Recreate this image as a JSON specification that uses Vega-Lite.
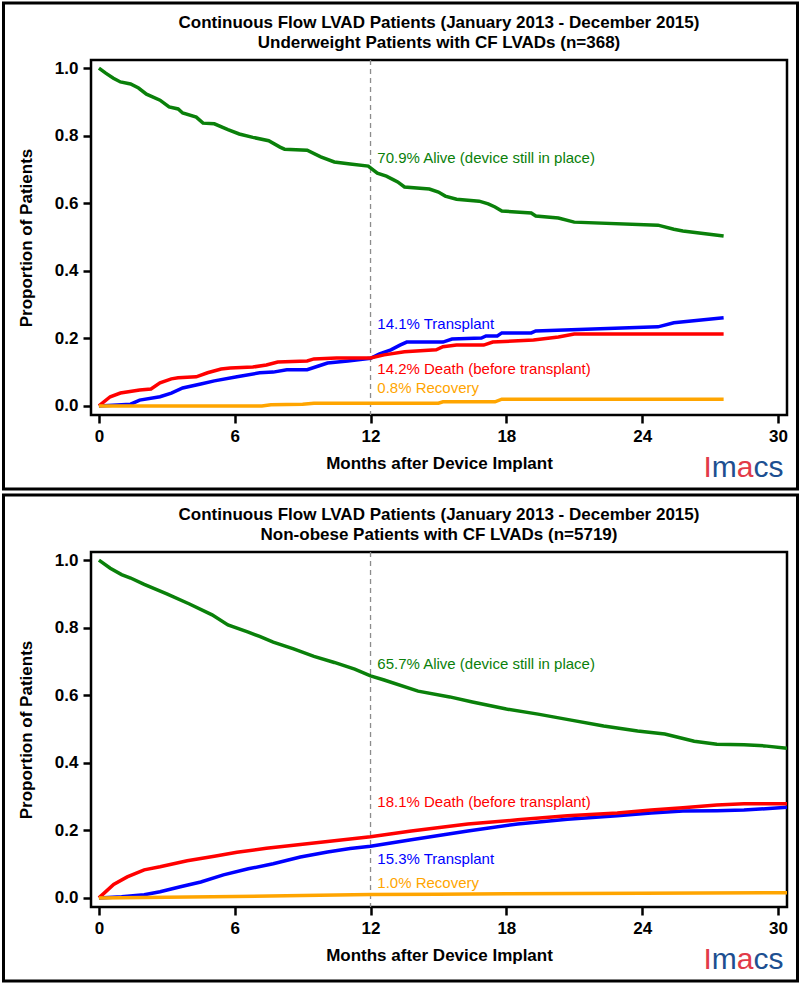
{
  "$schema": "https://vega.github.io/schema/vega-lite/v6.json",
  "padding": 0,
  "background": "white",
  "spacing": 0,
  "config": {
    "font": "Liberation Sans",
    "view": {"stroke": "black", "strokeWidth": 2.5},
    "axis": {"domain": false, "grid": false, "tickColor": "black", "tickWidth": 2.5, "tickSize": 8, "labelFont": "Liberation Sans", "labelFontSize": 17, "labelFontWeight": "bold", "labelColor": "black", "labelPadding": 5, "labelFlush": false, "titleFont": "Liberation Sans", "titleFontSize": 17, "titleFontWeight": "bold", "titleColor": "black"},
    "axisX": {"titlePadding": 11},
    "axisY": {"titlePadding": 19},
    "title": {"font": "Liberation Sans", "fontSize": 17, "fontWeight": "bold", "color": "black", "frame": "group", "anchor": "middle", "lineHeight": 20, "offset": -50}
  },
  "datasets": {
    "underweight": [
      {"status": "Alive", "month": 0, "p": 1.0}, {"status": "Alive", "month": 0.3, "p": 0.985}, {"status": "Alive", "month": 0.64, "p": 0.970}, {"status": "Alive", "month": 0.95, "p": 0.959}, {"status": "Alive", "month": 1.4, "p": 0.953}, {"status": "Alive", "month": 1.75, "p": 0.941}, {"status": "Alive", "month": 2.1, "p": 0.923}, {"status": "Alive", "month": 2.7, "p": 0.905}, {"status": "Alive", "month": 3.1, "p": 0.885}, {"status": "Alive", "month": 3.5, "p": 0.879}, {"status": "Alive", "month": 3.7, "p": 0.867}, {"status": "Alive", "month": 4.3, "p": 0.855}, {"status": "Alive", "month": 4.6, "p": 0.837}, {"status": "Alive", "month": 5.1, "p": 0.835}, {"status": "Alive", "month": 5.7, "p": 0.818}, {"status": "Alive", "month": 6.2, "p": 0.805}, {"status": "Alive", "month": 6.8, "p": 0.795}, {"status": "Alive", "month": 7.5, "p": 0.785}, {"status": "Alive", "month": 8.0, "p": 0.766}, {"status": "Alive", "month": 8.2, "p": 0.760}, {"status": "Alive", "month": 9.2, "p": 0.757}, {"status": "Alive", "month": 9.8, "p": 0.737}, {"status": "Alive", "month": 10.4, "p": 0.722}, {"status": "Alive", "month": 11.1, "p": 0.716}, {"status": "Alive", "month": 11.9, "p": 0.710}, {"status": "Alive", "month": 12.3, "p": 0.689}, {"status": "Alive", "month": 12.7, "p": 0.680}, {"status": "Alive", "month": 13.0, "p": 0.670}, {"status": "Alive", "month": 13.2, "p": 0.663}, {"status": "Alive", "month": 13.5, "p": 0.648}, {"status": "Alive", "month": 14.6, "p": 0.642}, {"status": "Alive", "month": 15.0, "p": 0.633}, {"status": "Alive", "month": 15.3, "p": 0.621}, {"status": "Alive", "month": 15.8, "p": 0.612}, {"status": "Alive", "month": 16.8, "p": 0.606}, {"status": "Alive", "month": 17.2, "p": 0.598}, {"status": "Alive", "month": 17.5, "p": 0.589}, {"status": "Alive", "month": 17.8, "p": 0.577}, {"status": "Alive", "month": 19.1, "p": 0.571}, {"status": "Alive", "month": 19.3, "p": 0.562}, {"status": "Alive", "month": 20.3, "p": 0.556}, {"status": "Alive", "month": 21.0, "p": 0.544}, {"status": "Alive", "month": 24.7, "p": 0.535}, {"status": "Alive", "month": 25.4, "p": 0.523}, {"status": "Alive", "month": 25.8, "p": 0.518}, {"status": "Alive", "month": 27.6, "p": 0.503},
      {"status": "Transplant", "month": 0, "p": 0}, {"status": "Transplant", "month": 1.4, "p": 0.005}, {"status": "Transplant", "month": 1.8, "p": 0.017}, {"status": "Transplant", "month": 2.7, "p": 0.027}, {"status": "Transplant", "month": 3.2, "p": 0.038}, {"status": "Transplant", "month": 3.7, "p": 0.053}, {"status": "Transplant", "month": 4.5, "p": 0.065}, {"status": "Transplant", "month": 5.1, "p": 0.074}, {"status": "Transplant", "month": 6.1, "p": 0.086}, {"status": "Transplant", "month": 7.1, "p": 0.098}, {"status": "Transplant", "month": 7.7, "p": 0.100}, {"status": "Transplant", "month": 8.3, "p": 0.107}, {"status": "Transplant", "month": 9.2, "p": 0.107}, {"status": "Transplant", "month": 9.7, "p": 0.118}, {"status": "Transplant", "month": 10.1, "p": 0.127}, {"status": "Transplant", "month": 11.0, "p": 0.133}, {"status": "Transplant", "month": 12.0, "p": 0.141}, {"status": "Transplant", "month": 12.4, "p": 0.154}, {"status": "Transplant", "month": 12.9, "p": 0.166}, {"status": "Transplant", "month": 13.3, "p": 0.180}, {"status": "Transplant", "month": 13.6, "p": 0.189}, {"status": "Transplant", "month": 15.2, "p": 0.189}, {"status": "Transplant", "month": 15.6, "p": 0.198}, {"status": "Transplant", "month": 16.9, "p": 0.201}, {"status": "Transplant", "month": 17.1, "p": 0.207}, {"status": "Transplant", "month": 17.6, "p": 0.207}, {"status": "Transplant", "month": 17.8, "p": 0.216}, {"status": "Transplant", "month": 19.1, "p": 0.216}, {"status": "Transplant", "month": 19.3, "p": 0.222}, {"status": "Transplant", "month": 24.7, "p": 0.234}, {"status": "Transplant", "month": 25.4, "p": 0.246}, {"status": "Transplant", "month": 27.6, "p": 0.261},
      {"status": "Death", "month": 0, "p": 0}, {"status": "Death", "month": 0.5, "p": 0.027}, {"status": "Death", "month": 0.95, "p": 0.038}, {"status": "Death", "month": 1.8, "p": 0.047}, {"status": "Death", "month": 2.3, "p": 0.050}, {"status": "Death", "month": 2.7, "p": 0.068}, {"status": "Death", "month": 3.2, "p": 0.080}, {"status": "Death", "month": 3.5, "p": 0.083}, {"status": "Death", "month": 4.3, "p": 0.086}, {"status": "Death", "month": 4.8, "p": 0.098}, {"status": "Death", "month": 5.4, "p": 0.109}, {"status": "Death", "month": 5.8, "p": 0.112}, {"status": "Death", "month": 6.8, "p": 0.115}, {"status": "Death", "month": 7.4, "p": 0.121}, {"status": "Death", "month": 7.9, "p": 0.130}, {"status": "Death", "month": 9.2, "p": 0.133}, {"status": "Death", "month": 9.5, "p": 0.139}, {"status": "Death", "month": 10.5, "p": 0.142}, {"status": "Death", "month": 12.0, "p": 0.142}, {"status": "Death", "month": 12.6, "p": 0.151}, {"status": "Death", "month": 13.5, "p": 0.160}, {"status": "Death", "month": 14.9, "p": 0.166}, {"status": "Death", "month": 15.2, "p": 0.175}, {"status": "Death", "month": 15.8, "p": 0.180}, {"status": "Death", "month": 17.0, "p": 0.180}, {"status": "Death", "month": 17.4, "p": 0.189}, {"status": "Death", "month": 19.2, "p": 0.195}, {"status": "Death", "month": 20.3, "p": 0.204}, {"status": "Death", "month": 21.0, "p": 0.213}, {"status": "Death", "month": 27.6, "p": 0.213},
      {"status": "Recovery", "month": 0, "p": 0}, {"status": "Recovery", "month": 7.2, "p": 0}, {"status": "Recovery", "month": 7.6, "p": 0.003}, {"status": "Recovery", "month": 9.0, "p": 0.005}, {"status": "Recovery", "month": 9.5, "p": 0.008}, {"status": "Recovery", "month": 15.0, "p": 0.008}, {"status": "Recovery", "month": 15.2, "p": 0.012}, {"status": "Recovery", "month": 17.5, "p": 0.012}, {"status": "Recovery", "month": 17.8, "p": 0.020}, {"status": "Recovery", "month": 27.6, "p": 0.020}
    ],
    "underweightLabels": [
      {"status": "Alive", "label": "70.9% Alive (device still in place)", "month": 12.3, "p": 0.734},
      {"status": "Transplant", "label": "14.1% Transplant", "month": 12.3, "p": 0.243},
      {"status": "Death", "label": "14.2% Death (before transplant)", "month": 12.3, "p": 0.109},
      {"status": "Recovery", "label": "0.8% Recovery", "month": 12.3, "p": 0.053}
    ],
    "nonobese": [
      {"status": "Alive", "month": 0, "p": 1.0}, {"status": "Alive", "month": 0.5, "p": 0.976}, {"status": "Alive", "month": 1.0, "p": 0.957}, {"status": "Alive", "month": 1.4, "p": 0.947}, {"status": "Alive", "month": 2.0, "p": 0.928}, {"status": "Alive", "month": 3.0, "p": 0.900}, {"status": "Alive", "month": 4.0, "p": 0.870}, {"status": "Alive", "month": 5.0, "p": 0.838}, {"status": "Alive", "month": 5.7, "p": 0.808}, {"status": "Alive", "month": 6.6, "p": 0.787}, {"status": "Alive", "month": 7.1, "p": 0.774}, {"status": "Alive", "month": 7.7, "p": 0.757}, {"status": "Alive", "month": 8.6, "p": 0.737}, {"status": "Alive", "month": 9.5, "p": 0.715}, {"status": "Alive", "month": 10.4, "p": 0.697}, {"status": "Alive", "month": 11.3, "p": 0.677}, {"status": "Alive", "month": 12.0, "p": 0.657}, {"status": "Alive", "month": 12.6, "p": 0.645}, {"status": "Alive", "month": 14.1, "p": 0.612}, {"status": "Alive", "month": 15.5, "p": 0.595}, {"status": "Alive", "month": 16.5, "p": 0.580}, {"status": "Alive", "month": 18.0, "p": 0.559}, {"status": "Alive", "month": 19.4, "p": 0.544}, {"status": "Alive", "month": 20.8, "p": 0.527}, {"status": "Alive", "month": 22.3, "p": 0.509}, {"status": "Alive", "month": 23.8, "p": 0.494}, {"status": "Alive", "month": 25.0, "p": 0.485}, {"status": "Alive", "month": 26.3, "p": 0.464}, {"status": "Alive", "month": 27.3, "p": 0.455}, {"status": "Alive", "month": 28.5, "p": 0.453}, {"status": "Alive", "month": 29.4, "p": 0.450}, {"status": "Alive", "month": 30.4, "p": 0.443},
      {"status": "Transplant", "month": 0, "p": 0}, {"status": "Transplant", "month": 1.0, "p": 0.003}, {"status": "Transplant", "month": 2.0, "p": 0.009}, {"status": "Transplant", "month": 2.7, "p": 0.018}, {"status": "Transplant", "month": 3.6, "p": 0.033}, {"status": "Transplant", "month": 4.5, "p": 0.047}, {"status": "Transplant", "month": 5.5, "p": 0.068}, {"status": "Transplant", "month": 6.6, "p": 0.086}, {"status": "Transplant", "month": 7.7, "p": 0.101}, {"status": "Transplant", "month": 8.9, "p": 0.121}, {"status": "Transplant", "month": 10.1, "p": 0.136}, {"status": "Transplant", "month": 11.1, "p": 0.146}, {"status": "Transplant", "month": 12.0, "p": 0.153}, {"status": "Transplant", "month": 13.8, "p": 0.172}, {"status": "Transplant", "month": 16.3, "p": 0.198}, {"status": "Transplant", "month": 18.5, "p": 0.219}, {"status": "Transplant", "month": 20.7, "p": 0.233}, {"status": "Transplant", "month": 22.9, "p": 0.243}, {"status": "Transplant", "month": 24.4, "p": 0.251}, {"status": "Transplant", "month": 25.8, "p": 0.257}, {"status": "Transplant", "month": 27.3, "p": 0.258}, {"status": "Transplant", "month": 28.5, "p": 0.260}, {"status": "Transplant", "month": 30.4, "p": 0.268},
      {"status": "Death", "month": 0, "p": 0}, {"status": "Death", "month": 0.65, "p": 0.040}, {"status": "Death", "month": 1.25, "p": 0.062}, {"status": "Death", "month": 2.0, "p": 0.083}, {"status": "Death", "month": 2.7, "p": 0.092}, {"status": "Death", "month": 3.9, "p": 0.110}, {"status": "Death", "month": 5.1, "p": 0.123}, {"status": "Death", "month": 6.1, "p": 0.135}, {"status": "Death", "month": 7.4, "p": 0.147}, {"status": "Death", "month": 8.6, "p": 0.156}, {"status": "Death", "month": 10.4, "p": 0.169}, {"status": "Death", "month": 11.3, "p": 0.176}, {"status": "Death", "month": 12.0, "p": 0.181}, {"status": "Death", "month": 13.8, "p": 0.198}, {"status": "Death", "month": 16.3, "p": 0.219}, {"status": "Death", "month": 18.5, "p": 0.231}, {"status": "Death", "month": 20.7, "p": 0.243}, {"status": "Death", "month": 22.9, "p": 0.251}, {"status": "Death", "month": 24.4, "p": 0.260}, {"status": "Death", "month": 25.8, "p": 0.267}, {"status": "Death", "month": 27.3, "p": 0.275}, {"status": "Death", "month": 28.5, "p": 0.279}, {"status": "Death", "month": 30.4, "p": 0.279},
      {"status": "Recovery", "month": 0, "p": 0}, {"status": "Recovery", "month": 3, "p": 0.002}, {"status": "Recovery", "month": 6, "p": 0.004}, {"status": "Recovery", "month": 9, "p": 0.007}, {"status": "Recovery", "month": 12, "p": 0.010}, {"status": "Recovery", "month": 15, "p": 0.011}, {"status": "Recovery", "month": 18, "p": 0.012}, {"status": "Recovery", "month": 21, "p": 0.013}, {"status": "Recovery", "month": 24, "p": 0.014}, {"status": "Recovery", "month": 30.4, "p": 0.015}
    ],
    "nonobeseLabels": [
      {"status": "Alive", "label": "65.7% Alive (device still in place)", "month": 12.3, "p": 0.692},
      {"status": "Death", "label": "18.1% Death (before transplant)", "month": 12.3, "p": 0.284},
      {"status": "Transplant", "label": "15.3% Transplant", "month": 12.3, "p": 0.115},
      {"status": "Recovery", "label": "1.0% Recovery", "month": 12.3, "p": 0.044}
    ]
  },
  "vconcat": [
    {
      "width": 696,
      "height": 355,
      "title": {"text": ["Continuous Flow LVAD Patients (January 2013 - December 2015)", "Underweight Patients with CF LVADs (n=368)"]},
      "layer": [
        {
          "data": {"values": [{}]},
          "mark": {"type": "rect", "fill": "white", "fillOpacity": 0, "stroke": "black", "strokeWidth": 3, "clip": false},
          "encoding": {"x": {"datum": -4.216, "type": "quantitative"}, "x2": {"datum": 30.864}, "y": {"datum": 1.1927, "type": "quantitative"}, "y2": {"datum": -0.2461}}
        },
        {
          "data": {"values": [{}]},
          "mark": {"type": "rule", "color": "#8c8c8c", "strokeDash": [5, 4], "strokeWidth": 1.3},
          "encoding": {"x": {"datum": 12, "type": "quantitative"}}
        },
        {
          "data": {"name": "underweight"},
          "mark": {"type": "line", "strokeWidth": 3.5, "clip": true},
          "encoding": {
            "x": {"field": "month", "type": "quantitative", "scale": {"domain": [-0.35, 30.4], "nice": false, "zero": false}, "axis": {"values": [0, 6, 12, 18, 24, 30], "title": "Months after Device Implant"}},
            "y": {"field": "p", "type": "quantitative", "scale": {"domain": [-0.027, 1.024], "nice": false, "zero": false}, "axis": {"values": [0, 0.2, 0.4, 0.6, 0.8, 1], "format": ".1f", "title": "Proportion of Patients"}},
            "color": {"field": "status", "type": "nominal", "scale": {"domain": ["Alive", "Transplant", "Death", "Recovery"], "range": ["#0a800a", "#0000ff", "#ff0000", "#ffa500"]}, "legend": null}
          }
        },
        {
          "data": {"name": "underweightLabels"},
          "mark": {"type": "text", "align": "left", "baseline": "middle", "fontSize": 15, "font": "Liberation Sans"},
          "encoding": {
            "x": {"field": "month", "type": "quantitative"},
            "y": {"field": "p", "type": "quantitative"},
            "text": {"field": "label"},
            "color": {"field": "status", "type": "nominal", "legend": null}
          }
        },
        {"data": {"values": [{}]}, "mark": {"type": "text", "text": "I", "fontSize": 30, "align": "left", "baseline": "middle", "color": "#e23a48"}, "encoding": {"x": {"datum": 26.71, "type": "quantitative"}, "y": {"datum": -0.184, "type": "quantitative"}}},
        {"data": {"values": [{}]}, "mark": {"type": "text", "text": "m", "fontSize": 30, "align": "left", "baseline": "middle", "color": "#1d4f91"}, "encoding": {"x": {"datum": 27.08, "type": "quantitative"}, "y": {"datum": -0.184, "type": "quantitative"}}},
        {"data": {"values": [{}]}, "mark": {"type": "text", "text": "a", "fontSize": 30, "align": "left", "baseline": "middle", "color": "#e23a48"}, "encoding": {"x": {"datum": 28.18, "type": "quantitative"}, "y": {"datum": -0.184, "type": "quantitative"}}},
        {"data": {"values": [{}]}, "mark": {"type": "text", "text": "cs", "fontSize": 30, "align": "left", "baseline": "middle", "color": "#1d4f91"}, "encoding": {"x": {"datum": 28.92, "type": "quantitative"}, "y": {"datum": -0.184, "type": "quantitative"}}}
      ]
    },
    {
      "width": 696,
      "height": 355,
      "title": {"text": ["Continuous Flow LVAD Patients (January 2013 - December 2015)", "Non-obese Patients with CF LVADs (n=5719)"]},
      "layer": [
        {
          "data": {"values": [{}]},
          "mark": {"type": "rect", "fill": "white", "fillOpacity": 0, "stroke": "black", "strokeWidth": 3, "clip": false},
          "encoding": {"x": {"datum": -4.216, "type": "quantitative"}, "x2": {"datum": 30.864}, "y": {"datum": 1.1927, "type": "quantitative"}, "y2": {"datum": -0.2461}}
        },
        {
          "data": {"values": [{}]},
          "mark": {"type": "rule", "color": "#8c8c8c", "strokeDash": [5, 4], "strokeWidth": 1.3},
          "encoding": {"x": {"datum": 12, "type": "quantitative"}}
        },
        {
          "data": {"name": "nonobese"},
          "mark": {"type": "line", "strokeWidth": 3.5, "clip": true},
          "encoding": {
            "x": {"field": "month", "type": "quantitative", "scale": {"domain": [-0.35, 30.4], "nice": false, "zero": false}, "axis": {"values": [0, 6, 12, 18, 24, 30], "title": "Months after Device Implant"}},
            "y": {"field": "p", "type": "quantitative", "scale": {"domain": [-0.027, 1.024], "nice": false, "zero": false}, "axis": {"values": [0, 0.2, 0.4, 0.6, 0.8, 1], "format": ".1f", "title": "Proportion of Patients"}},
            "color": {"field": "status", "type": "nominal", "scale": {"domain": ["Alive", "Transplant", "Death", "Recovery"], "range": ["#0a800a", "#0000ff", "#ff0000", "#ffa500"]}, "legend": null}
          }
        },
        {
          "data": {"name": "nonobeseLabels"},
          "mark": {"type": "text", "align": "left", "baseline": "middle", "fontSize": 15, "font": "Liberation Sans"},
          "encoding": {
            "x": {"field": "month", "type": "quantitative"},
            "y": {"field": "p", "type": "quantitative"},
            "text": {"field": "label"},
            "color": {"field": "status", "type": "nominal", "legend": null}
          }
        },
        {"data": {"values": [{}]}, "mark": {"type": "text", "text": "I", "fontSize": 30, "align": "left", "baseline": "middle", "color": "#e23a48"}, "encoding": {"x": {"datum": 26.71, "type": "quantitative"}, "y": {"datum": -0.184, "type": "quantitative"}}},
        {"data": {"values": [{}]}, "mark": {"type": "text", "text": "m", "fontSize": 30, "align": "left", "baseline": "middle", "color": "#1d4f91"}, "encoding": {"x": {"datum": 27.08, "type": "quantitative"}, "y": {"datum": -0.184, "type": "quantitative"}}},
        {"data": {"values": [{}]}, "mark": {"type": "text", "text": "a", "fontSize": 30, "align": "left", "baseline": "middle", "color": "#e23a48"}, "encoding": {"x": {"datum": 28.18, "type": "quantitative"}, "y": {"datum": -0.184, "type": "quantitative"}}},
        {"data": {"values": [{}]}, "mark": {"type": "text", "text": "cs", "fontSize": 30, "align": "left", "baseline": "middle", "color": "#1d4f91"}, "encoding": {"x": {"datum": 28.92, "type": "quantitative"}, "y": {"datum": -0.184, "type": "quantitative"}}}
      ]
    }
  ]
}
